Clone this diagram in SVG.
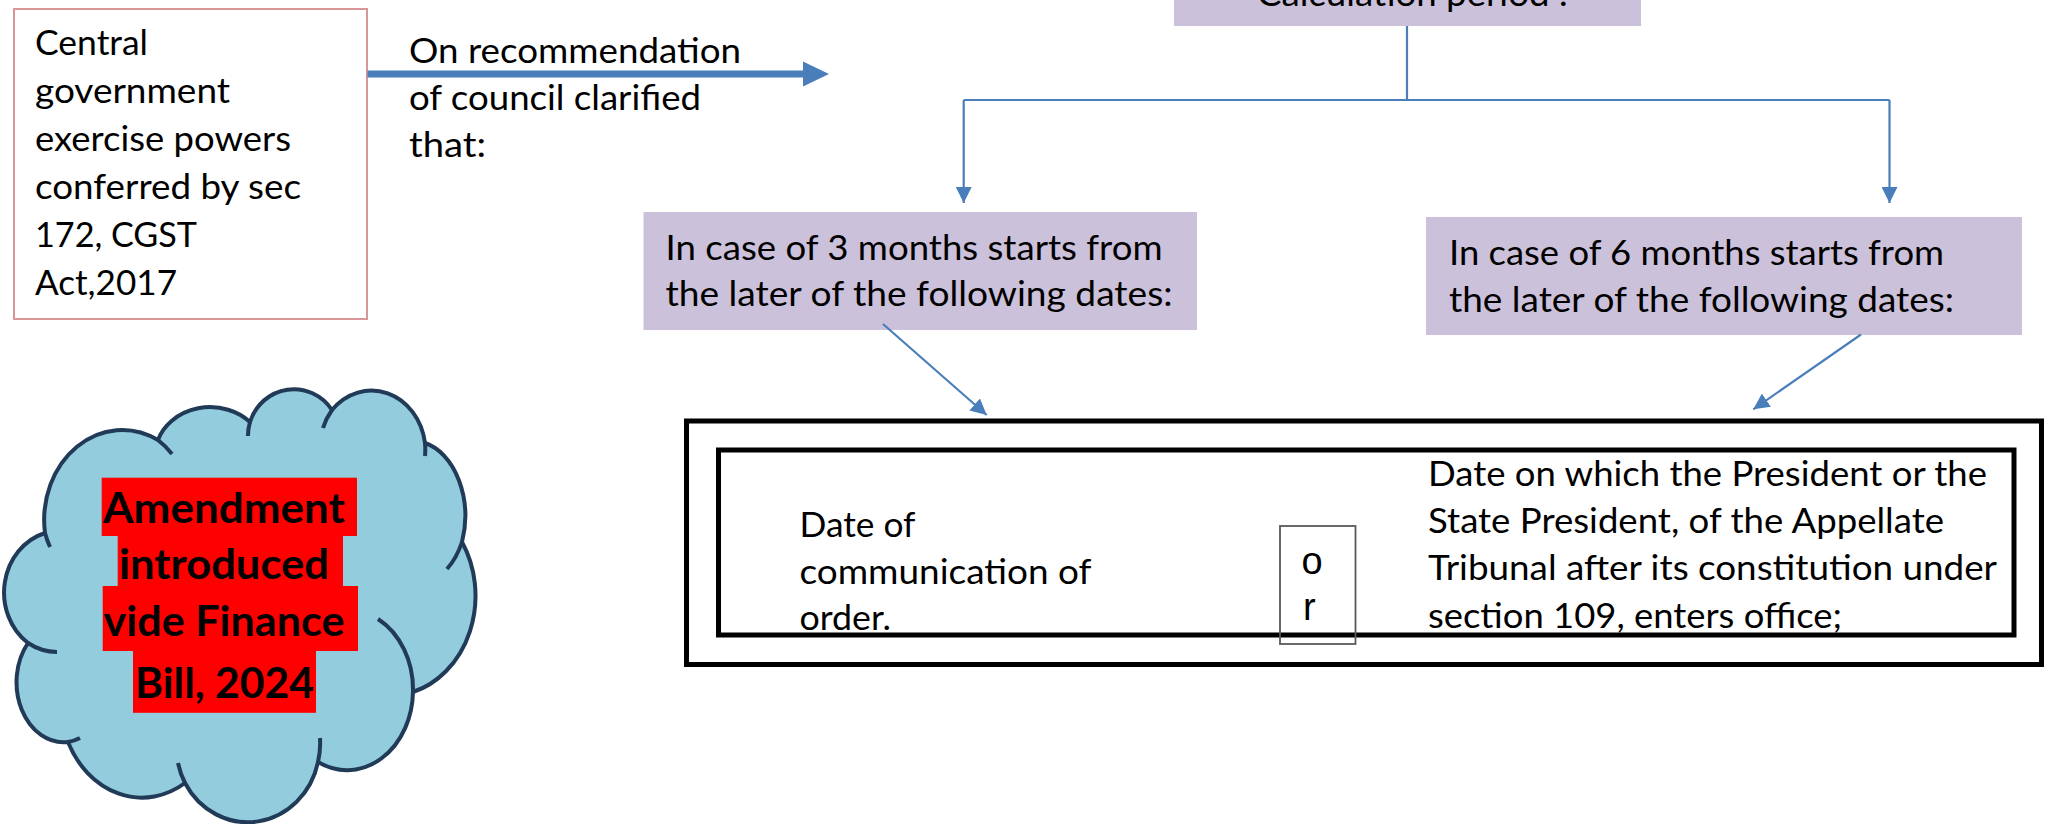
<svg xmlns="http://www.w3.org/2000/svg" width="2047" height="824" viewBox="0 0 2047 824">
  <style>
    .t { font-family: Lato, "Open Sans", sans-serif; font-size: 35px; fill: #000; }
    .tb { font-family: Lato, "Open Sans", sans-serif; font-size: 42px; font-weight: bold; fill: #000; }
    .lav { fill: #CCC1DA; stroke: none; }
    .conn { stroke: #4A7EBB; stroke-width: 2.2; fill: none; }
    .frame { fill: none; stroke: #000; stroke-width: 5; }
    .hl { fill: #FF0000; }
  </style>
  <defs>
    <marker id="head" markerUnits="userSpaceOnUse" markerWidth="16" markerHeight="16" refX="16" refY="8" orient="auto">
      <path d="M0,0 L16,8 L0,16 Z" fill="#4A7EBB"/>
    </marker>
  </defs>
  <rect width="2047" height="824" fill="#FFFFFF"/>

  <!-- source statement -->
  <g id="node-central">
    <rect x="14" y="9" width="353" height="310" fill="#FFFFFF" stroke="#D99694" stroke-width="2"/>
    <text class="t" x="35" y="55" textLength="113" lengthAdjust="spacingAndGlyphs">Central</text>
    <text class="t" x="35" y="103" textLength="195" lengthAdjust="spacingAndGlyphs">government</text>
    <text class="t" x="35" y="151" textLength="256" lengthAdjust="spacingAndGlyphs">exercise powers</text>
    <text class="t" x="35" y="199" textLength="266" lengthAdjust="spacingAndGlyphs">conferred by sec</text>
    <text class="t" x="35" y="247" textLength="162" lengthAdjust="spacingAndGlyphs">172, CGST</text>
    <text class="t" x="35" y="295" textLength="142" lengthAdjust="spacingAndGlyphs">Act,2017</text>
  </g>

  <!-- label on the thick arrow -->
  <g id="label-recommendation">
    <text class="t" x="409" y="63" textLength="332" lengthAdjust="spacingAndGlyphs">On recommendation</text>
    <text class="t" x="409" y="110" textLength="292" lengthAdjust="spacingAndGlyphs">of council clarified</text>
    <text class="t" x="409" y="157" textLength="77" lengthAdjust="spacingAndGlyphs">that:</text>
  </g>

  <g id="node-calculation">
    <rect class="lav" x="1174" y="-10" width="467" height="36"/>
    <text class="t" x="1257" y="6" textLength="311" lengthAdjust="spacingAndGlyphs">Calculation period :</text>
  </g>

  <g id="node-three-months">
    <rect class="lav" x="643.5" y="212" width="553.5" height="118"/>
    <text class="t" x="665.5" y="259.5" textLength="497" lengthAdjust="spacingAndGlyphs">In case of 3 months starts from</text>
    <text class="t" x="665.5" y="306" textLength="507" lengthAdjust="spacingAndGlyphs">the later of the following dates:</text>
  </g>

  <g id="node-six-months">
    <rect class="lav" x="1426" y="217" width="596" height="118"/>
    <text class="t" x="1449" y="264.5" textLength="495" lengthAdjust="spacingAndGlyphs">In case of 6 months starts from</text>
    <text class="t" x="1449" y="311.5" textLength="505" lengthAdjust="spacingAndGlyphs">the later of the following dates:</text>
  </g>

  <g id="node-dates">
    <rect class="frame" x="686.5" y="421" width="1355" height="243.5"/>
    <rect class="frame" x="718.5" y="450" width="1295.5" height="185"/>
    <text class="t" x="799.5" y="536.7" textLength="116" lengthAdjust="spacingAndGlyphs">Date of</text>
    <text class="t" x="799.5" y="584.3" textLength="292" lengthAdjust="spacingAndGlyphs">communication of</text>
    <text class="t" x="799.5" y="630" textLength="91.5" lengthAdjust="spacingAndGlyphs">order.</text>
    <text class="t" x="1428" y="486" textLength="559" lengthAdjust="spacingAndGlyphs">Date on which the President or the</text>
    <text class="t" x="1428" y="532.7" textLength="516" lengthAdjust="spacingAndGlyphs">State President, of the Appellate</text>
    <text class="t" x="1428" y="580" textLength="569" lengthAdjust="spacingAndGlyphs">Tribunal after its constitution under</text>
    <text class="t" x="1428" y="627.7" textLength="414" lengthAdjust="spacingAndGlyphs">section 109, enters office;</text>
  </g>

  <g id="node-or">
    <rect x="1280" y="526" width="75.5" height="118" fill="none" stroke="#595959" stroke-width="1.8"/>
    <text x="1301.5" y="574" font-family="'Liberation Sans', Arial, sans-serif" font-size="38" fill="#000">o</text>
    <text x="1303" y="620" font-family="'Liberation Sans', Arial, sans-serif" font-size="38" fill="#000">r</text>
  </g>

  <!-- cloud callout -->
  <g id="node-amendment">
    <path d="M 28 643 A 57 62 0 0 1 45 533 A 78 90 0 0 1 158 440 A 55 48 0 0 1 250 422 A 46 47 0 0 1 332 410 A 54 61 0 0 1 425 443 A 52 75 0 0 1 462 542 A 86 100 0 0 1 413 692 A 66 80 0 0 1 318 762 A 72 77 0 0 1 185 783 A 82 98 0 0 1 68 742 A 47 60 0 0 1 28 643 Z" fill="#93CDDD" stroke="#203A57" stroke-width="4" stroke-linejoin="round"/>
    <path d="M 50 547 A 78 90 0 0 1 45 533 M 158 440 A 78 90 0 0 1 172 454 M 248 436 A 46 47 0 0 1 250 422 M 323 428 A 54 61 0 0 1 332 410 M 425 443 A 54 61 0 0 1 425 456 M 462 542 A 52 75 0 0 1 447 569 M 378 619 A 66 80 0 0 1 413 692 M 320 738 A 72 77 0 0 1 318 762 M 185 783 A 72 77 0 0 1 178 763 M 80 738 A 47 60 0 0 1 68 742 M 57 652 A 57 62 0 0 1 28 643" fill="none" stroke="#203A57" stroke-width="4"/>
    <rect class="hl" x="101.7" y="477.7" width="255.3" height="58.3"/>
    <rect class="hl" x="117.7" y="535.7" width="225.3" height="50.6"/>
    <rect class="hl" x="102.7" y="586" width="255.3" height="65"/>
    <rect class="hl" x="133" y="650.8" width="183" height="62"/>
    <text class="tb" x="224" y="523" text-anchor="middle" textLength="242" lengthAdjust="spacingAndGlyphs">Amendment</text>
    <text class="tb" x="224" y="579" text-anchor="middle" textLength="210" lengthAdjust="spacingAndGlyphs">introduced</text>
    <text class="tb" x="224" y="636" text-anchor="middle" textLength="241" lengthAdjust="spacingAndGlyphs">vide Finance</text>
    <text class="tb" x="224.5" y="697.7" text-anchor="middle" textLength="179" lengthAdjust="spacingAndGlyphs">Bill, 2024</text>
  </g>

  <g id="connectors">
    <line x1="367.5" y1="74" x2="806" y2="74" stroke="#4A7EBB" stroke-width="7"/>
    <polygon points="803,61.5 829,74 803,86.5" fill="#4A7EBB"/>
    <polyline class="conn" points="1407,26 1407,100"/>
    <polyline class="conn" points="963.7,100 1889.5,100"/>
    <line class="conn" x1="963.7" y1="100" x2="963.7" y2="203" marker-end="url(#head)"/>
    <line class="conn" x1="1889.5" y1="100" x2="1889.5" y2="203" marker-end="url(#head)"/>
    <line class="conn" x1="883" y1="324" x2="986.7" y2="415" marker-end="url(#head)"/>
    <line class="conn" x1="1861" y1="334.5" x2="1753.3" y2="409.3" marker-end="url(#head)"/>
  </g>
</svg>
